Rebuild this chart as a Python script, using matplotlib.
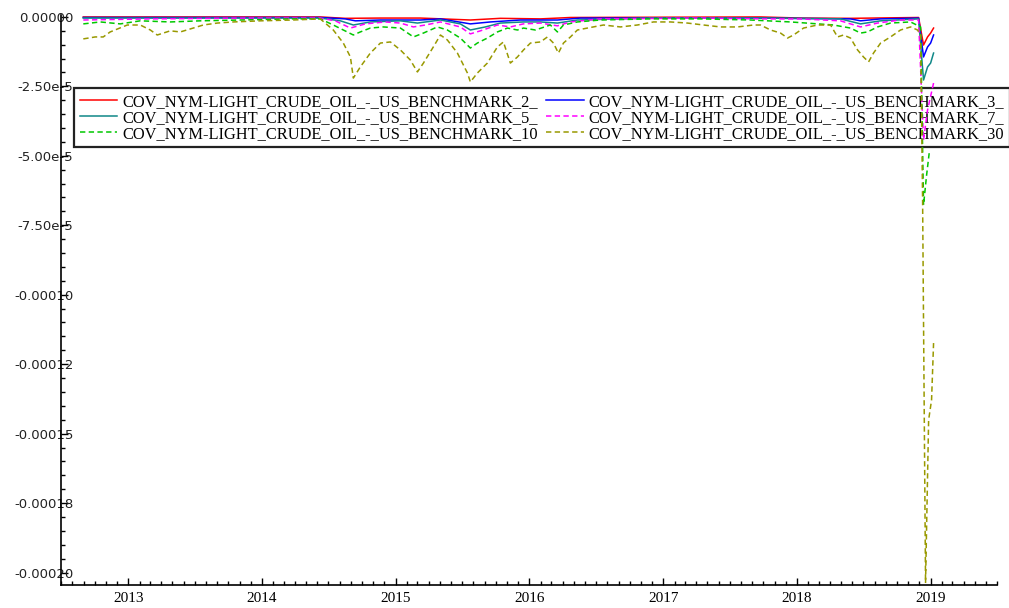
import numpy as np
import pandas as pd
import matplotlib
matplotlib.use("Agg")
import matplotlib.pyplot as plt
import matplotlib.dates as mdates
from matplotlib.ticker import FixedLocator, MultipleLocator, FixedFormatter

# values, in units of 1e-6, dates as decimal years
t_2 = [2012.665, 2014.437, 2014.624, 2014.886, 2015.185, 2015.559, 2015.783, 2016.083,
       2016.307, 2017.728, 2018.027, 2018.401, 2018.910, 2018.947, 2018.977, 2019.000, 2019.022]
cov_2 = [0.0, 0.0, -0.5, -0.4, -0.4, -1.1, -0.5, -0.7,
         -0.2, 0.0, -0.4, -0.5, -0.2, -10.1, -7.2, -5.8, -4.0]

t_3 = [2012.665, 2014.437, 2014.624, 2014.699, 2014.886, 2015.185, 2015.335, 2015.559,
       2015.709, 2015.933, 2016.210, 2016.382, 2017.728, 2018.401, 2018.476, 2018.626,
       2018.910, 2018.947, 2018.977, 2019.000, 2019.022]
cov_3 = [-0.2, -0.2, -0.7, -1.4, -1.1, -1.1, -0.7, -2.5,
         -1.8, -1.1, -1.1, -0.4, -0.4, -0.7, -1.4, -0.7,
         -0.4, -14.4, -10.8, -9.4, -6.5]

t_5 = [2012.665, 2013.914, 2014.437, 2014.587, 2014.684, 2014.811, 2015.036, 2015.163,
       2015.335, 2015.484, 2015.559, 2015.671, 2015.783, 2015.955, 2016.083, 2016.210,
       2016.359, 2016.905, 2017.728, 2018.326, 2018.476, 2018.626, 2018.910, 2018.947,
       2018.977, 2019.000, 2019.022]
cov_5 = [-0.4, -0.4, -0.4, -1.4, -2.9, -1.8, -1.4, -2.2,
         -1.1, -2.5, -4.7, -3.6, -2.2, -1.8, -1.8, -2.2,
         -1.1, -0.4, -0.4, -0.7, -2.5, -1.4, -0.7, -22.7,
         -18.0, -16.6, -13.0]

t_7 = [2012.665, 2013.166, 2013.914, 2014.437, 2014.549, 2014.662, 2014.774, 2014.923,
       2015.036, 2015.133, 2015.223, 2015.335, 2015.484, 2015.559, 2015.634, 2015.761,
       2015.858, 2015.955, 2016.083, 2016.210, 2016.307, 2016.531, 2017.279, 2017.728,
       2018.027, 2018.326, 2018.476, 2018.603, 2018.775, 2018.910, 2018.947, 2018.977,
       2019.022]
cov_7 = [-1.1, -0.7, -0.4, -0.4, -1.4, -4.0, -2.5, -1.8,
         -2.2, -3.6, -2.9, -1.8, -3.6, -6.1, -5.0, -2.9,
         -3.6, -2.5, -2.2, -3.2, -1.8, -0.7, -0.4, -0.7,
         -0.7, -1.4, -3.6, -2.2, -1.1, -1.1, -44.3, -33.5,
         -23.8]

t_10 = [2012.665, 2012.792, 2012.941, 2013.091, 2013.315, 2013.540, 2013.839, 2014.213,
        2014.437, 2014.534, 2014.609, 2014.684, 2014.736, 2014.811, 2014.908, 2015.036,
        2015.133, 2015.208, 2015.312, 2015.387, 2015.484, 2015.559, 2015.611, 2015.686,
        2015.761, 2015.836, 2015.911, 2015.956, 2016.045, 2016.157, 2016.210, 2016.255,
        2016.359, 2016.531, 2016.905, 2017.279, 2017.653, 2017.953, 2018.274, 2018.401,
        2018.476, 2018.528, 2018.603, 2018.700, 2018.850, 2018.925, 2018.947, 2018.970,
        2018.992]
cov_10 = [-2.5, -1.8, -2.5, -1.4, -1.8, -1.4, -1.1, -0.7,
          -0.7, -2.9, -4.7, -6.5, -5.4, -4.0, -3.6, -4.0,
          -7.2, -5.8, -3.6, -4.7, -7.6, -11.2, -9.4, -7.6,
          -5.4, -4.0, -4.7, -4.0, -4.7, -2.9, -5.4, -2.9,
          -1.8, -1.1, -0.7, -0.7, -1.1, -1.8, -2.9, -4.0,
          -5.8, -5.4, -3.6, -2.2, -1.8, -3.6, -67.7, -56.9,
          -47.9]

t_30 = [2012.665, 2012.754, 2012.814, 2012.866, 2012.994, 2013.091, 2013.166, 2013.218,
        2013.315, 2013.390, 2013.487, 2013.562, 2013.667, 2013.786, 2013.988, 2014.235,
        2014.437, 2014.534, 2014.609, 2014.662, 2014.684, 2014.736, 2014.811, 2014.886,
        2014.961, 2015.036, 2015.110, 2015.163, 2015.208, 2015.282, 2015.335, 2015.387,
        2015.462, 2015.537, 2015.559, 2015.611, 2015.686, 2015.761, 2015.806, 2015.858,
        2015.911, 2015.956, 2016.008, 2016.083, 2016.135, 2016.180, 2016.217, 2016.255,
        2016.307, 2016.359, 2016.434, 2016.554, 2016.681, 2016.808, 2016.928, 2017.055,
        2017.182, 2017.302, 2017.429, 2017.556, 2017.676, 2017.728, 2017.803, 2017.878,
        2017.930, 2017.975, 2018.050, 2018.154, 2018.252, 2018.304, 2018.349, 2018.401,
        2018.454, 2018.498, 2018.536, 2018.573, 2018.626, 2018.700, 2018.775, 2018.850,
        2018.902, 2018.925, 2018.940, 2018.962, 2018.985, 2019.007, 2019.022]
cov_30 = [-7.9, -7.2, -7.2, -5.4, -2.9, -2.9, -4.7, -6.5,
          -5.0, -5.4, -4.0, -2.9, -2.2, -1.8, -1.4, -1.1,
          -0.7, -4.7, -9.4, -14.4, -22.0, -18.0, -13.0, -9.4,
          -9.0, -11.9, -15.5, -19.8, -16.6, -10.8, -6.5, -8.3,
          -13.0, -20.2, -23.4, -20.2, -16.6, -10.8, -9.0, -16.6,
          -14.4, -11.9, -9.4, -9.0, -7.2, -9.4, -13.0, -9.4,
          -7.2, -4.7, -4.0, -2.9, -3.6, -2.9, -1.8, -1.8,
          -2.2, -2.9, -3.6, -3.6, -2.9, -2.9, -4.7, -5.8,
          -7.6, -6.5, -4.0, -2.9, -2.9, -7.2, -6.5, -7.6,
          -11.9, -14.4, -16.2, -13.0, -9.4, -7.2, -4.7, -3.6,
          -4.7, -6.5, -65.9, -203.8, -145.1, -137.9, -117.4]

prefix = "COV_NYM-LIGHT_CRUDE_OIL_-_US_BENCHMARK_"
series = [
    ("2_", t_2, cov_2, "#ff0000", "-"),
    ("3_", t_3, cov_3, "#0000ff", "-"),
    ("5_", t_5, cov_5, "#108888", "-"),
    ("7_", t_7, cov_7, "#ff00ff", "--"),
    ("10", t_10, cov_10, "#00c800", "--"),
    ("30", t_30, cov_30, "#999900", "--"),
]

y_ticks = [0, -2.5e-5, -5e-5, -7.5e-5, -1e-4, -1.25e-4, -1.5e-4, -1.75e-4, -2e-4]
y_labels = ["0.00000", "-2.50e-5", "-5.00e-5", "-7.50e-5", "-0.00010",
            "-0.00012", "-0.00015", "-0.00018", "-0.00020"]


def to_dates(years):
    years = np.asarray(years, dtype=float)
    return pd.Timestamp("2012-01-01") + pd.to_timedelta((years - 2012) * 365.25, unit="D")


fig = plt.figure(figsize=(10.09, 6.08), dpi=100)
ax = fig.add_axes([61 / 1009, 23 / 608, 936 / 1009, 570 / 608])

handles = {}
for name, t, v, color, ls in series:
    kw = dict(color=color, lw=1.1, zorder=3)
    if ls == "--":
        kw["dashes"] = (3.5, 2.2)
    (h,) = ax.plot(to_dates(t), np.asarray(v) * 1e-6, label=prefix + name, **kw)
    handles[name] = h

ax.set_xlim(pd.Timestamp("2012-07-01"), pd.Timestamp("2019-07-01"))
ax.set_ylim(-2.045e-4, 0.7e-6)

for side in ("top", "right"):
    ax.spines[side].set_visible(False)
for side in ("left", "bottom"):
    ax.spines[side].set_linewidth(1.2)

ax.xaxis.set_major_locator(mdates.YearLocator())
ax.xaxis.set_major_formatter(mdates.DateFormatter("%Y"))
ax.xaxis.set_minor_locator(mdates.MonthLocator())
ax.yaxis.set_major_locator(FixedLocator(y_ticks))
ax.yaxis.set_major_formatter(FixedFormatter(y_labels))
ax.yaxis.set_minor_locator(MultipleLocator(5e-6))

ax.tick_params(axis="both", which="both", direction="in", width=1.0)
ax.tick_params(axis="both", which="major", length=5)
ax.tick_params(axis="both", which="minor", length=3)
ax.tick_params(axis="x", which="major", pad=5)
ax.tick_params(axis="y", which="major", pad=-9)
for lab in ax.get_xticklabels():
    lab.set_family("Liberation Serif")
    lab.set_fontsize(11)
for lab in ax.get_yticklabels():
    lab.set_family("DejaVu Sans")
    lab.set_fontsize(9.5)
    lab.set_color("#222222")

order = ["2_", "5_", "10", "3_", "7_", "30"]
leg = ax.legend(
    [handles[k] for k in order], [prefix + k for k in order],
    ncol=2, loc="upper left", bbox_to_anchor=(74 / 1009, 1 - 88 / 608),
    bbox_transform=fig.transFigure, prop={"family": "Liberation Serif", "size": 11.8},
    frameon=True, fancybox=False, borderaxespad=0, borderpad=0.35,
    labelspacing=0.0, handlelength=2.3, handletextpad=0.3, columnspacing=0.5,
)
leg.get_frame().set_edgecolor("#222222")
leg.get_frame().set_linewidth(1.6)
leg.get_frame().set_alpha(1)
leg.set_zorder(2)

fig.savefig("out.png", dpi=100)
